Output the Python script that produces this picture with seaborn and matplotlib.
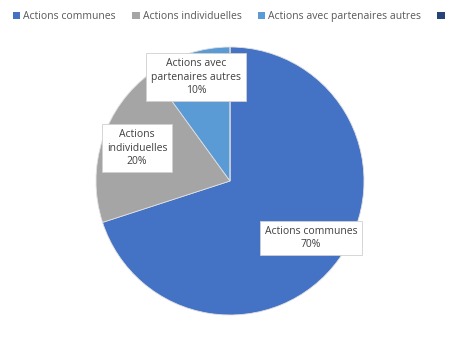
import matplotlib
matplotlib.use("Agg")
import matplotlib.pyplot as plt
import seaborn as sns
from matplotlib.patches import Patch

categories = ["Actions communes", "Actions individuelles", "Actions avec partenaires autres", ""]
values = [70, 20, 10, 0]
label_texts = ["Actions communes\n70%", "Actions\nindividuelles\n20%", "Actions avec\npartenaires autres\n10%", None]
colors = sns.color_palette(["#4472C4", "#A5A5A5", "#5B9BD5", "#264478"])

sns.set_theme(style="white")
plt.rcParams['font.family'] = ['Open Sans', 'DejaVu Sans']

fig = plt.figure(figsize=(4.58, 3.52), dpi=100)
fig.patch.set_facecolor("white")
ax = fig.add_axes([96/458, 37/352, 268/458, 268/352])
ax.pie(values, colors=colors, startangle=90, counterclock=False, radius=1,
       wedgeprops=dict(linewidth=0.6, edgecolor="#e0e0e0"))
ax.set_xlim(-1, 1)
ax.set_ylim(-1, 1)
ax.set_aspect("equal")
ax.axis("off")

label_pos = [(0.604, -0.425), (-0.694, 0.246), (-0.254, 0.776)]
for txt, pos in zip(label_texts, label_pos):
    if txt is None:
        continue
    ax.text(pos[0], pos[1], txt, ha="center", va="center", fontsize=7.5, color="#404040",
            linespacing=1.35,
            bbox=dict(boxstyle="square,pad=0.45", facecolor="white", edgecolor="#d0d0d0", linewidth=0.6))

handles = [Patch(facecolor=c, edgecolor="none") for c in colors]
fig.legend(handles, categories, loc="upper left", bbox_to_anchor=(0.008, 0.995), ncol=4,
           frameon=False, fontsize=7.5, handlelength=0.7, handleheight=0.7,
           handletextpad=0.3, columnspacing=1.55, labelcolor="#595959")

fig.savefig("out.png", dpi=100, facecolor="white")
